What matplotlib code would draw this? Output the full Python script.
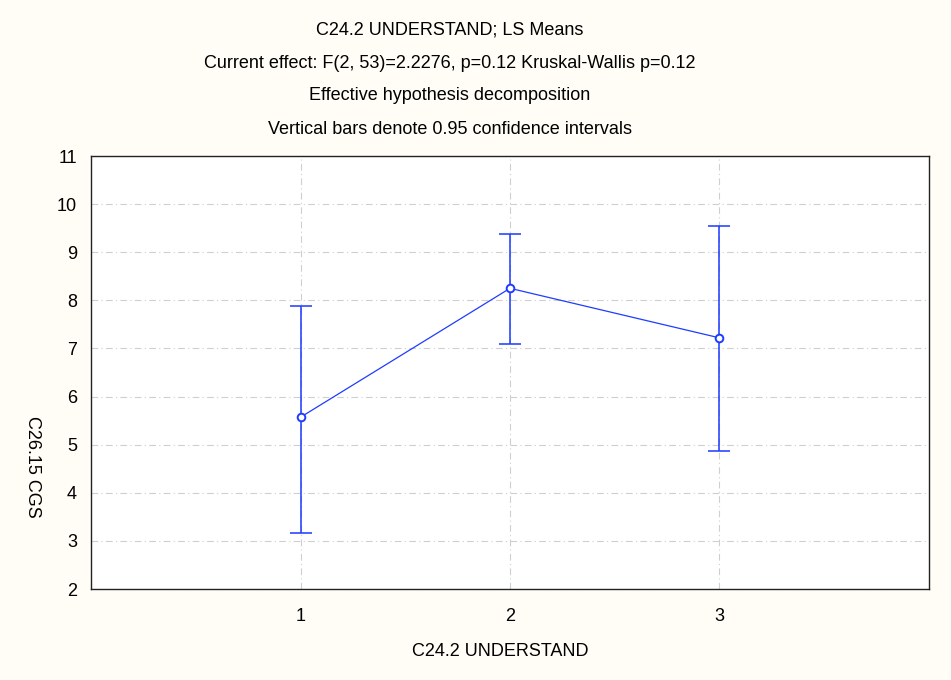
import matplotlib
matplotlib.use("Agg")
import matplotlib.pyplot as plt
import numpy as np

plt.rcParams['font.family'] = ['Liberation Sans', 'DejaVu Sans']

# LS means of C26.15 CGS per level of C24.2 UNDERSTAND, with 95% CI bounds
levels = [1, 2, 3]
means = [5.57, 8.25, 7.22]
ci_low = [3.16, 7.09, 4.86]
ci_high = [7.89, 9.38, 9.55]

title_lines = [
    "C24.2 UNDERSTAND; LS Means",
    "Current effect: F(2, 53)=2.2276, p=0.12 Kruskal-Wallis p=0.12",
    "Effective hypothesis decomposition",
    "Vertical bars denote 0.95 confidence intervals",
]
xlabel = "C24.2 UNDERSTAND"
ylabel = "C26.15 CGS"

bg = '#FFFDF6'
blue = '#1E3CFF'

fig = plt.figure(figsize=(9.51, 6.80), dpi=100, facecolor=bg)
ax = fig.add_axes([91 / 951, 1 - 589 / 680, (929 - 91) / 951, (589 - 156) / 680])
ax.set_facecolor('white')

means = np.array(means)
yerr = np.vstack([means - np.array(ci_low), np.array(ci_high) - means])

ax.errorbar(levels, means, yerr=yerr, fmt='none', ecolor=blue, elinewidth=1.4,
            capsize=8, capthick=1.4, alpha=0.8, zorder=3)
ax.plot(levels, means, color=blue, lw=0.9, zorder=4)
ax.plot(levels, means, 'o', ms=5.5, mfc='white', mec=blue, mew=1.4, zorder=5)

ax.set_xlim(0, 4)
ax.set_ylim(2, 11)
ax.set_xticks(levels)
ax.set_yticks(range(2, 12))
ax.grid(True, color='#cfcfcf', lw=0.8, linestyle=(0, (6, 3, 1, 3)))
ax.set_axisbelow(True)
ax.tick_params(axis='both', labelsize=13, length=0)
ax.tick_params(axis='x', pad=14)
ax.tick_params(axis='y', pad=10)
for sp in ax.spines.values():
    sp.set_color('#222222')
    sp.set_linewidth(1.0)

for i, line in enumerate(title_lines):
    fig.text(450 / 951, 1 - (30 + 33 * i) / 680, line, ha='center', va='center',
             fontsize=13, color='black')

fig.text(500 / 951, 1 - 652 / 680, xlabel, ha='center', va='center', fontsize=13)
fig.text(32 / 951, 1 - 467 / 680, ylabel, ha='center', va='center', fontsize=13,
         rotation=270)

fig.savefig('out.png', dpi=100, facecolor=bg)
